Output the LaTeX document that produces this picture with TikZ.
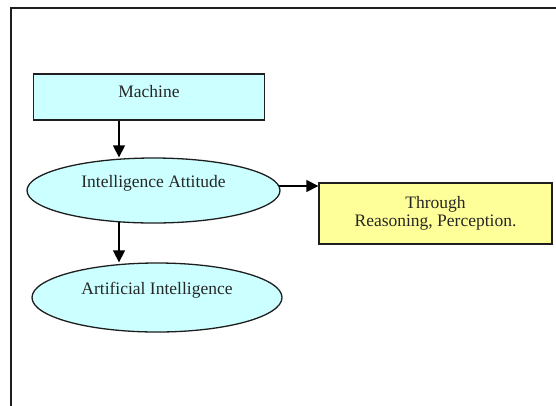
\documentclass[tikz,border=0pt]{standalone}
\usepackage{fontspec}
\setmainfont{Liberation Serif}
\usepackage{tikz}
\usetikzlibrary{shapes.geometric,arrows.meta}
\definecolor{lcyan}{RGB}{204,255,255}
\definecolor{lyellow}{RGB}{255,255,153}
\definecolor{edgegray}{RGB}{30,30,30}
\pgfdeclarelayer{edgelayer}
\pgfdeclarelayer{nodelayer}
\pgfsetlayers{edgelayer,nodelayer,main}
\tikzstyle{none}=[inner sep=0pt]
\tikzstyle{label}=[font=\fontsize{17.5}{18}\selectfont,text=black!85]
\tikzstyle{stage}=[rectangle,fill=lcyan,draw=edgegray,line width=1.3,inner sep=0pt,text depth=12pt,style=label]
\tikzstyle{idea}=[ellipse,fill=lcyan,draw=edgegray,line width=1.3,inner sep=0pt,text depth=18pt,style=label]
\tikzstyle{means}=[rectangle,fill=lyellow,draw=edgegray,line width=1.3,align=center,style=label]
\tikzstyle{inarrow}=[-{Triangle[length=12pt,width=12pt]},draw=black,line width=1.3]
\tikzstyle{frame}=[-,draw=edgegray,line width=1.5]

\begin{document}
\begin{tikzpicture}[x=1pt,y=-1pt]
	\useasboundingbox (0,0) rectangle (556,405);
	\begin{pgfonlayer}{nodelayer}
		\node [style=stage,minimum width=231,minimum height=46] (Machine) at (149, 97) {Machine};
		\node [style=idea,minimum width=253,minimum height=65] (Attitude) at (153.5, 190.5) {Intelligence Attitude};
		\node [style=idea,minimum width=250,minimum height=69] (AI) at (157, 297.5) {Artificial Intelligence};
		\node [style=means,minimum width=233,minimum height=61] (Through) at (435.5, 213.5) {Through\\Reasoning, Perception.};

		\coordinate (spine) at (119, 0);
		\coordinate (row) at (0, 186);
		\coordinate (Ftl) at (11, 8);
		\coordinate (Fbl) at (11, 410);
		\coordinate (Ftr) at (560, 8);
	\end{pgfonlayer}
	\begin{pgfonlayer}{edgelayer}
		\draw [style=inarrow] (Machine.south -| spine) to (Attitude.north -| spine);
		\draw [style=inarrow] (Attitude.center -| spine) to (AI.north -| spine);
		\draw [style=inarrow] (Attitude.center |- row) to (Through.west |- row);
		\draw [style=frame] (Fbl) to (Ftl) to (Ftr);
	\end{pgfonlayer}
\end{tikzpicture}
\end{document}
